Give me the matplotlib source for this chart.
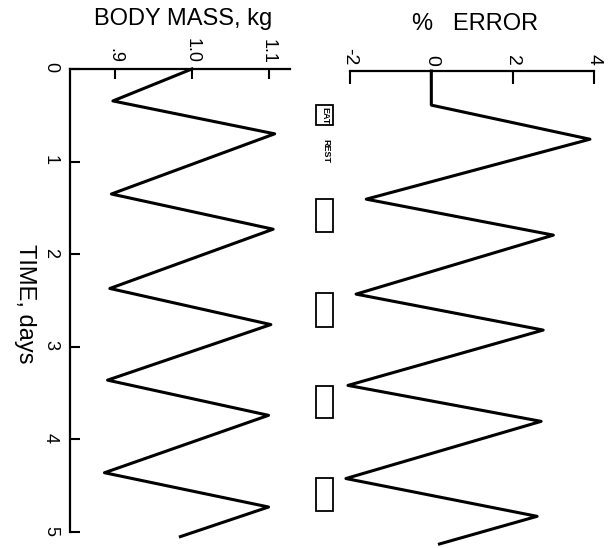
import matplotlib
matplotlib.use('Agg')
import matplotlib.pyplot as plt
from matplotlib.patches import Rectangle

plt.rcParams['font.family'] = ['Liberation Sans', 'DejaVu Sans']

# body mass (kg) vs time (days)
mass_t = [0, 0.345, 0.70, 1.35, 1.73, 2.37, 2.76, 3.36, 3.74, 4.36, 4.73, 5.05]
mass_kg = [1.0, 0.897, 1.108, 0.895, 1.106, 0.893, 1.103, 0.89, 1.1, 0.886, 1.1, 0.985]

# % error vs time (days)
err_t = [0, 0.37, 0.74, 1.39, 1.78, 2.42, 2.81, 3.41, 3.80, 4.42, 4.83, 5.13]
err_pct = [0, 0, 3.9, -1.6, 3.0, -1.85, 2.75, -2.05, 2.7, -2.1, 2.6, 0.2]

# eating periods (days)
eat_start = [1.39, 2.41, 3.42, 4.41]
eat_end = [1.75, 2.78, 3.76, 4.77]
eat_label_period = (0.37, 0.59)

time_ticks = [0, 1, 2, 3, 4, 5]
mass_ticks = [0.9, 1.0, 1.1]
mass_labels = ['.9', '1.0', '1.1']
err_ticks = [-2, 0, 2, 4]
err_labels = ['-2', '0', '2', '4']

W, H = 613, 548
fig = plt.figure(figsize=(W / 100, H / 100), dpi=100)


def px_axes(x0, y0, x1, y1):
    return fig.add_axes([x0 / W, 1 - y1 / H, (x1 - x0) / W, (y1 - y0) / H])


# ---- body mass panel ----
ax1 = px_axes(70, 69, 290, 532)
ax1.plot(mass_kg, mass_t, color='black', lw=2.2, clip_on=False)
ax1.set_xlim(0.841, 1.128)
ax1.set_ylim(5, 0)
for s in ['right', 'bottom']:
    ax1.spines[s].set_visible(False)
for s in ['left', 'top']:
    ax1.spines[s].set_linewidth(1.6)
ax1.xaxis.tick_top()
ax1.set_xticks(mass_ticks)
ax1.set_xticklabels(mass_labels, rotation=-90, fontsize=13)
ax1.set_yticks(time_ticks)
ax1.set_yticklabels([str(t) for t in time_ticks], rotation=-90, fontsize=13)
ax1.tick_params(axis='x', direction='in', length=7, width=1.5, pad=4)
ax1.tick_params(axis='y', direction='in', length=7, width=1.5, pad=8)
ax1.patch.set_alpha(0)

# ---- % error panel ----
ax2 = px_axes(350, 71, 594, 532)
ax2.plot(err_pct, err_t, color='black', lw=2.2, clip_on=False)
ax2.set_xlim(-2, 4)
ax2.set_ylim(5, 0)
for s in ['right', 'bottom', 'left']:
    ax2.spines[s].set_visible(False)
ax2.spines['top'].set_linewidth(1.6)
ax2.xaxis.tick_top()
ax2.set_xticks(err_ticks)
ax2.set_xticklabels(err_labels, rotation=-90, fontsize=14)
ax2.set_yticks([])
ax2.tick_params(axis='x', direction='in', length=9, width=1.5, pad=4)
ax2.patch.set_alpha(0)

# eat / rest markers
t0, t1 = eat_label_period
ax2.add_patch(Rectangle((-2.83, t0), 0.42, t1 - t0, fill=False, lw=1.3,
                        ec='black', clip_on=False))
ax2.text(-2.62, (t0 + t1) / 2, 'EAT', rotation=-90, fontsize=6.5,
         ha='center', va='center', fontweight='bold')
ax2.text(-2.6, 0.87, 'REST', rotation=-90, fontsize=6.5,
         ha='center', va='center', fontweight='bold')
for a, b in zip(eat_start, eat_end):
    ax2.add_patch(Rectangle((-2.83, a), 0.42, b - a, fill=False, lw=1.3,
                            ec='black', clip_on=False))

# axis titles
fig.text(183 / W, 1 - 19 / H, 'BODY MASS, kg', fontsize=17,
         ha='center', va='center')
fig.text(475 / W, 1 - 24 / H, '%   ERROR', fontsize=17,
         ha='center', va='center')
fig.text(25 / W, 1 - 304 / H, 'TIME, days', fontsize=17, rotation=-90,
         ha='center', va='center')

fig.savefig('out.png', dpi=100)
